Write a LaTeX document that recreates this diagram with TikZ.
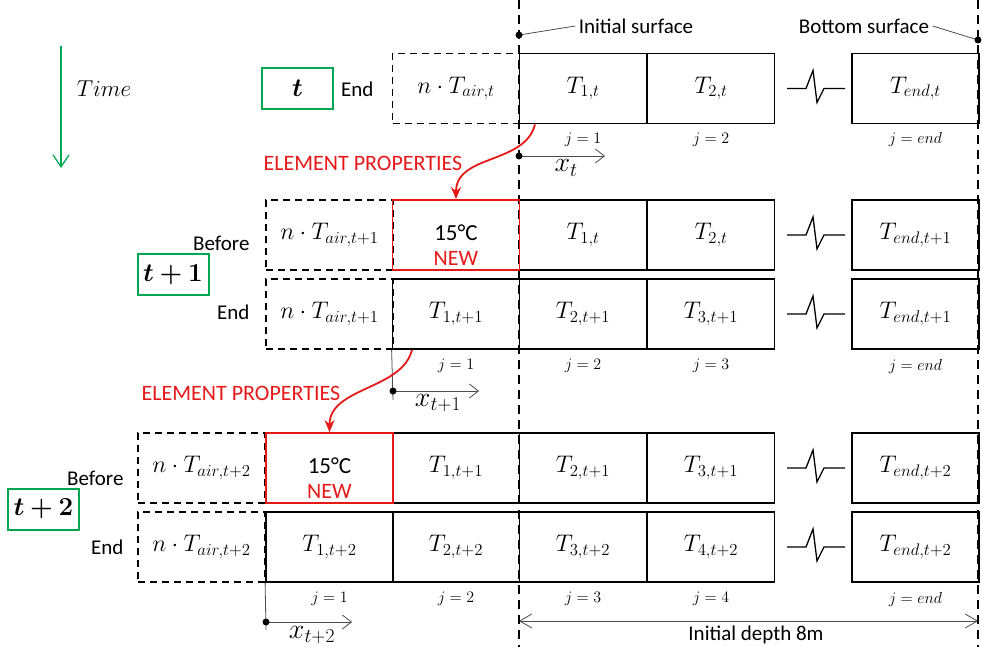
\RequirePackage{fix-cm}
\documentclass[tikz,border=0pt]{standalone}
\usepackage{amsmath, amssymb}
\usepackage{bm}
\usepackage{fontspec}
\setmainfont{Carlito}
\usepackage{tikz}
\usetikzlibrary{arrows.meta}

\definecolor{elgreen}{RGB}{0,166,81}
\definecolor{elred}{RGB}{230,25,25}

\begin{document}
\begin{tikzpicture}[x=1pt, y=-1pt,
    cell/.style={draw, line width=1.8pt, minimum width=127pt, minimum height=70pt, inner sep=0pt, font=\fontsize{24}{26}\selectfont},
    air/.style={cell, dash pattern=on 7pt off 5pt},
    newcell/.style={cell, draw=elred},
    stepbox/.style={draw=elgreen, line width=2pt, minimum width=71pt, minimum height=41pt, inner sep=0pt, font=\fontsize{26}{28}\selectfont},
    lab/.style={font=\fontsize{21}{24}\selectfont},
    jlab/.style={font=\fontsize{16}{18}\selectfont},
    xlab/.style={font=\fontsize{28}{30}\selectfont},
    redlab/.style={text=elred, font=\fontsize{22}{24}\selectfont},
    guide/.style={line width=1.1pt, dash pattern=on 9pt off 6pt},
    leader/.style={line width=0.8pt, draw=black!70},
    axisarrow/.style={-{Straight Barb[length=9pt,width=14pt]}, line width=0.8pt, draw=black!70},
    redarrow/.style={elred, line width=1.8pt, -{Stealth[length=12pt,width=10pt]}},
    ]
    \useasboundingbox (0,0) rectangle (982,647);

    \draw[guide] (519,0) -- (519,647);
    \draw[guide] (978,0) -- (978,647);

    \draw[elgreen, line width=1.2pt, -{Straight Barb[length=12pt,width=16pt]}] (61,46) -- (61,168);
    \node[font=\fontsize{23}{26}\selectfont] (time) at (104,89) {$Time$};

    \node[lab] (isurf) at (636,26) {Initial surface};
    \node[lab] (bsurf) at (864,26) {Bottom surface};
    \coordinate (sdot) at (519,35);
    \coordinate (bdot) at (978,40);
    \draw[leader] (isurf.west) -- (sdot);
    \draw[leader] (bsurf.east) -- (bdot);
    \fill (sdot) circle (3.5pt);
    \fill (bdot) circle (3.5pt);

    \node[air] (r0air) at (456,88.5) {$n\cdot T_{air,t}$};
    \node[cell] (r0c1) at (583,88.5) {$T_{1,t}$};
    \node[cell] (r0c2) at (711,88.5) {$T_{2,t}$};
    \node[cell] (r0end) at (915.5,88.5) {$T_{end,t}$};
    \node[stepbox] (step0) at (297.5,88.5) {$\bm{t}$};
    \node[lab, anchor=east] at (377,89) {End};

    \node[air] (r1bair) at (329.5,235) {$n\cdot T_{air,t+1}$};
    \node[cell] (r1bc1) at (583,235) {$T_{1,t}$};
    \node[cell] (r1bc2) at (711,235) {$T_{2,t}$};
    \node[cell] (r1bend) at (915.5,235) {$T_{end,t+1}$};
    \node[newcell] (r1new) at (456,235) {};
    \node[font=\fontsize{23}{26}\selectfont] at ([yshift=2pt]r1new.center) {15°C};
    \node[redlab] at ([yshift=-23pt]r1new.center) {NEW};

    \node[air] (r1eair) at (329.5,314) {$n\cdot T_{air,t+1}$};
    \node[cell] (r1ec1) at (456,314) {$T_{1,t+1}$};
    \node[cell] (r1ec2) at (583,314) {$T_{2,t+1}$};
    \node[cell] (r1ec3) at (711,314) {$T_{3,t+1}$};
    \node[cell] (r1eend) at (915.5,314) {$T_{end,t+1}$};
    \node[stepbox] (step1) at (173,274.5) {$\bm{t+1}$};
    \node[lab, anchor=east] at (253,243) {Before};
    \node[lab, anchor=east] at (253,312) {End};

    \node[air] (r2bair) at (201.5,468) {$n\cdot T_{air,t+2}$};
    \node[cell] (r2bc1) at (456,468) {$T_{1,t+1}$};
    \node[cell] (r2bc2) at (583,468) {$T_{2,t+1}$};
    \node[cell] (r2bc3) at (711,468) {$T_{3,t+1}$};
    \node[cell] (r2bend) at (915.5,468) {$T_{end,t+2}$};
    \node[newcell] (r2new) at (329.5,468) {};
    \node[font=\fontsize{23}{26}\selectfont] at ([yshift=2pt]r2new.center) {15°C};
    \node[redlab] at ([yshift=-23pt]r2new.center) {NEW};

    \node[air] (r2eair) at (201.5,547) {$n\cdot T_{air,t+2}$};
    \node[cell] (r2ec1) at (329.5,547) {$T_{1,t+2}$};
    \node[cell] (r2ec2) at (456,547) {$T_{2,t+2}$};
    \node[cell] (r2ec3) at (583,547) {$T_{3,t+2}$};
    \node[cell] (r2ec4) at (711,547) {$T_{4,t+2}$};
    \node[cell] (r2eend) at (915.5,547) {$T_{end,t+2}$};
    \node[stepbox] (step2) at (43.5,509) {$\bm{t+2}$};
    \node[lab, anchor=east] at (127,478) {Before};
    \node[lab, anchor=east] at (127,547) {End};

    \foreach \y in {88.5,235,314,468,547}
        \draw[line width=1.3pt] (787,\y) -- (806,\y) -- (813,{\y-18}) -- (817,{\y+14}) -- (824,\y) -- (845,\y);

    \node[jlab] at (583,140) {$j=1$};
    \node[jlab] at (711,140) {$j=2$};
    \node[jlab] at (915.5,140) {$j=end$};
    \node[jlab] at (456,366) {$j=1$};
    \node[jlab] at (583,366) {$j=2$};
    \node[jlab] at (711,366) {$j=3$};
    \node[jlab] at (915.5,366) {$j=end$};
    \node[jlab] at (329.5,599) {$j=1$};
    \node[jlab] at (456,599) {$j=2$};
    \node[jlab] at (583,599) {$j=3$};
    \node[jlab] at (711,599) {$j=4$};
    \node[jlab] at (915.5,599) {$j=end$};

    \coordinate (x0) at (519,156);
    \coordinate (x1) at (393,391);
    \coordinate (x2) at (266,622);
    \draw[leader] (r1ec1.south west) -- (393,400);
    \draw[leader] (r2ec1.south west) -- (266,630);
    \draw[axisarrow] (x0) -- ++(86,0);
    \draw[axisarrow] (x1) -- ++(86,0);
    \draw[axisarrow] (x2) -- ++(86,0);
    \fill (x0) circle (3.5pt);
    \fill (x1) circle (3.5pt);
    \fill (x2) circle (3.5pt);
    \node[xlab] at (566,168) {$x_t$};
    \node[xlab] at (438,403) {$x_{t+1}$};
    \node[xlab] at (312,635) {$x_{t+2}$};

    \node[redlab] (prop0) at (363,163) {ELEMENT PROPERTIES};
    \node[redlab] (prop1) at (241,393) {ELEMENT PROPERTIES};
    \draw[redarrow] ([xshift=-48pt]r0c1.south) .. controls +(-10,40) and +(0,-45) .. (r1new.north);
    \draw[redarrow] ([xshift=-44pt]r1ec1.south) .. controls +(-10,40) and +(0,-45) .. (r2new.north);

    \coordinate (d0) at (519,621);
    \coordinate (d1) at (978,621);
    \draw[{Straight Barb[length=12pt,width=14pt]}-{Straight Barb[length=12pt,width=14pt]}, line width=0.8pt, draw=black!70] (d0) -- (d1);
    \node[lab] (depth) at (756,635) {Initial depth 8m};
\end{tikzpicture}
\end{document}
